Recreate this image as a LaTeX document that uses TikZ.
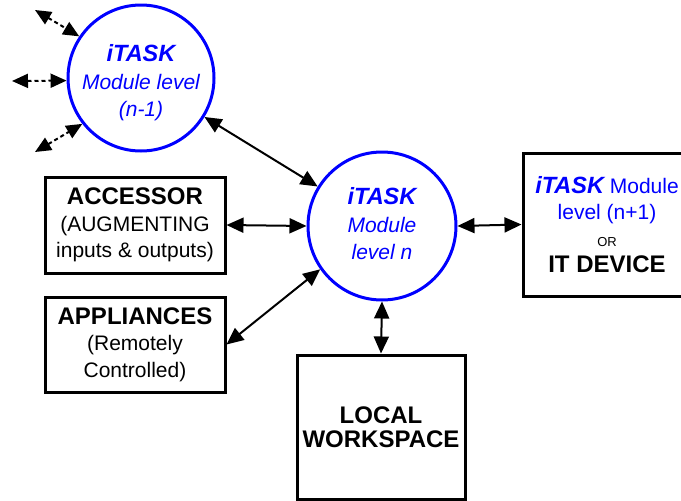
\documentclass[tikz,border=0pt]{standalone}
\usepackage{fontspec}
\setmainfont{Liberation Sans}
\usetikzlibrary{arrows.meta}
\newcommand\bigbold[1]{{\fontsize{24}{28}\selectfont\bfseries #1}}
\newcommand\bigbi[1]{{\fontsize{23.5}{28}\selectfont\bfseries\itshape #1}}
\begin{document}
\begin{tikzpicture}[x=1pt,y=-1pt,
  every node/.style={font=\fontsize{21}{26.5}\selectfont, align=center},
  modcircle/.style={circle, draw=blue, line width=3pt, inner sep=0pt, minimum size=#1},
  modtext/.style={text=blue, inner sep=0pt, font=\fontsize{21}{27.5}\selectfont\itshape},
  blockbox/.style={draw, line width=3pt, inner sep=0pt},
  link/.style={line width=2pt, {Triangle[length=17pt,width=15pt]}-{Triangle[length=17pt,width=15pt]}},
  dlink/.style={line width=2pt, dash pattern=on 4pt off 3pt, {Triangle[length=16pt,width=14pt]}-{Triangle[length=16pt,width=14pt]}},
]
\useasboundingbox (0,0) rectangle (681,501);

\node[modcircle=146pt] (cp) at (141,78) {};
\node[modtext] (cpt) at (141,83) {\bigbi{iTASK}\\ Module level\\ (n-1)};
\node[modcircle=148pt] (cn) at (382,226) {};
\node[modtext] (cnt) at (382,224) {\bigbi{iTASK}\\ Module\\ level n};

\node[blockbox, minimum width=180pt, minimum height=96pt] (acc) at (135,225)
  {\bigbold{ACCESSOR}\\ (AUGMENTING\\ inputs \& outputs)};
\node[blockbox, minimum width=180pt, minimum height=95pt] (app) at (135,344.5)
  {\bigbold{APPLIANCES}\\ (Remotely\\ Controlled)};
\node[blockbox, minimum width=168pt, minimum height=143pt] (rb) at (607,224.5)
  {\textcolor{blue}{\bigbi{iTASK} Module}\\ \textcolor{blue}{level (n+1)}\\
   {\fontsize{13}{15}\selectfont OR}\\ \bigbold{IT DEVICE}};
\node[blockbox, minimum width=168pt, minimum height=144pt] (lw) at (381,427)
  {\bigbold{LOCAL}\\[-3pt] \bigbold{WORKSPACE}};

\coordinate (d1) at (35,10);
\coordinate (d2) at (12,81);
\coordinate (d3) at (35,152);

\draw[link] (cp) -- (cn);
\draw[link] (acc.east) -- (cn.west);
\draw[link] (app.east) -- (cn.215);
\draw[link] (cn.east) -- (rb.west);
\draw[link] (cn.south) -- (lw.north);

\draw[dlink] (d1) -- (cp.146);
\draw[dlink] (d2) -- (cp.182);
\draw[dlink] (d3) -- (cp.218);
\end{tikzpicture}
\end{document}
